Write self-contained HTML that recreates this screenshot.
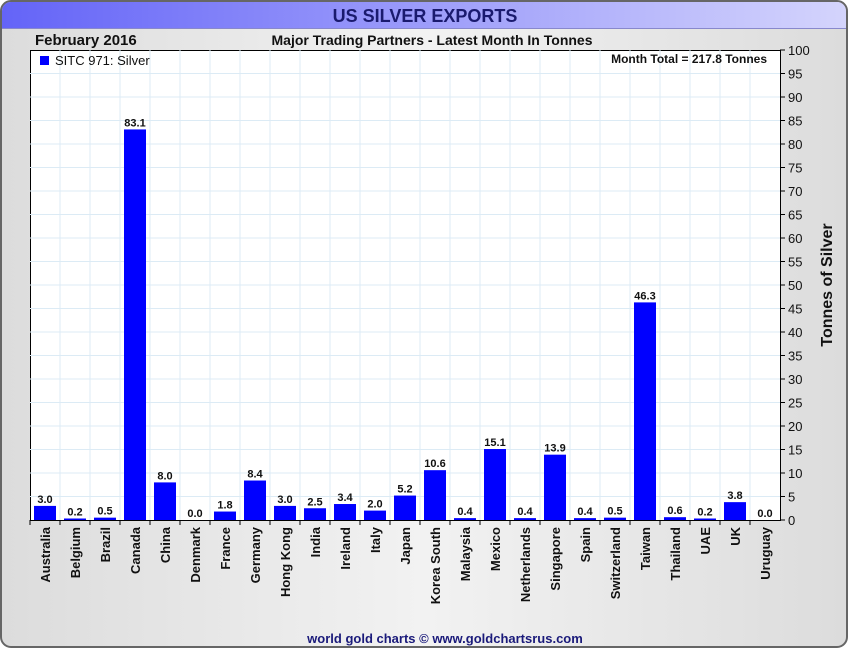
<!DOCTYPE html>
<html><head><meta charset="utf-8"><style>
body{margin:0;width:850px;height:650px;overflow:hidden;background:#fff;font-family:"Liberation Sans",sans-serif}
</style></head><body>
<svg width="850" height="650" xmlns="http://www.w3.org/2000/svg">
<defs>
<linearGradient id="hdr" x1="0" x2="1"><stop offset="0" stop-color="#6464f8"/><stop offset="1" stop-color="#d4d4fc"/></linearGradient>
<linearGradient id="bg" x1="0" x2="1"><stop offset="0" stop-color="#dcdcdc"/><stop offset="0.5" stop-color="#f2f2f2"/><stop offset="1" stop-color="#dcdcdc"/></linearGradient>
</defs>
<rect x="1" y="1" width="846" height="646" rx="10" fill="url(#bg)" stroke="#666" stroke-width="2"/>
<path d="M2,28 V11 A9,9 0 0 1 11,2 H837 A9,9 0 0 1 846,11 V28 Z" fill="url(#hdr)"/>
<line x1="2" y1="28.5" x2="846" y2="28.5" stroke="#8888cc"/>
<text x="425" y="22" text-anchor="middle" font-size="18" font-weight="bold" fill="#1a1a6e">US SILVER EXPORTS</text>
<text x="35" y="45" font-size="15" font-weight="bold" fill="#111">February 2016</text>
<text x="432" y="45" text-anchor="middle" font-size="14" font-weight="bold" fill="#111">Major Trading Partners - Latest Month In Tonnes</text>
<rect x="30.5" y="50.5" width="750" height="470" fill="#fff" stroke="#000"/>
<g id="grid"></g>
<g id="bars"></g>
<g id="xaxis"></g>
<g id="yaxis"></g>
<rect x="40" y="56" width="9" height="9" fill="#0000ff"/>
<text x="55" y="65" font-size="13" fill="#111">SITC 971: Silver</text>
<text x="767" y="63" text-anchor="end" font-size="12" font-weight="bold" fill="#111">Month Total = 217.8 Tonnes</text>
<text transform="translate(832,285) rotate(-90)" text-anchor="middle" font-size="16" font-weight="bold" fill="#111">Tonnes of Silver</text>
<text x="445" y="643" text-anchor="middle" font-size="13" font-weight="bold" fill="#1a1a7a">world gold charts © www.goldchartsrus.com</text>
</svg>
<script>
const categories=["Australia","Belgium","Brazil","Canada","China","Denmark","France","Germany","Hong Kong","India","Ireland","Italy","Japan","Korea South","Malaysia","Mexico","Netherlands","Singapore","Spain","Switzerland","Taiwan","Thailand","UAE","UK","Uruguay"];
const values=[3.0,0.2,0.5,83.1,8.0,0.0,1.8,8.4,3.0,2.5,3.4,2.0,5.2,10.6,0.4,15.1,0.4,13.9,0.4,0.5,46.3,0.6,0.2,3.8,0.0];
const yTicks=[0,5,10,15,20,25,30,35,40,45,50,55,60,65,70,75,80,85,90,95,100];
const NS="http://www.w3.org/2000/svg";
const L=30,R=780,T=50,B=520,yMax=100;
const slot=(R-L)/categories.length;
const y=v=>B-(v/yMax)*(B-T);
const x=i=>L+i*slot;
function mk(tag,at,parent){const e=document.createElementNS(NS,tag);for(const k in at)e.setAttribute(k,at[k]);document.getElementById(parent).appendChild(e);return e;}
yTicks.forEach(t=>{
 if(t>0&&t<100){const g=mk('line',{x1:L,x2:R,y1:y(t),y2:y(t),stroke:'#dcebf5'},'grid');
 
 }
 const tk=mk('line',{x1:R,x2:R+5,y1:y(t),y2:y(t),stroke:'#000'},'yaxis');
 
 
 const tx=mk('text',{x:R+8,y:y(t)+5,'font-size':13,fill:'#111'},'yaxis');tx.textContent=t;
 
 
});
categories.forEach((c,i)=>{
 if(i>0){const g=mk('line',{x1:x(i),x2:x(i),y1:T,y2:B,stroke:'#dcebf5'},'grid');
 
 }
 const tk=mk('line',{x1:x(i),x2:x(i),y1:B,y2:B+5,stroke:'#000'},'xaxis');
 
 
 const v=values[i];const cx=x(i)+slot/2;
 const h=Math.max(B-y(v),v>0?1.5:0);
 const b=mk('rect',{x:cx-11,y:B-h,width:22,height:h,fill:'#0000ff'},'bars');
 
 
 const lb=mk('text',{x:cx,y:B-h-3,'text-anchor':'middle','font-size':11,'font-weight':'bold',fill:'#111'},'bars');lb.textContent=v.toFixed(1);
 
 
 const xl=mk('text',{transform:`translate(${cx+5},${B+7}) rotate(-90)`,'text-anchor':'end','font-size':13,'font-weight':'bold',fill:'#111'},'xaxis');xl.textContent=c;
 
 
});
</script>
</body></html>
